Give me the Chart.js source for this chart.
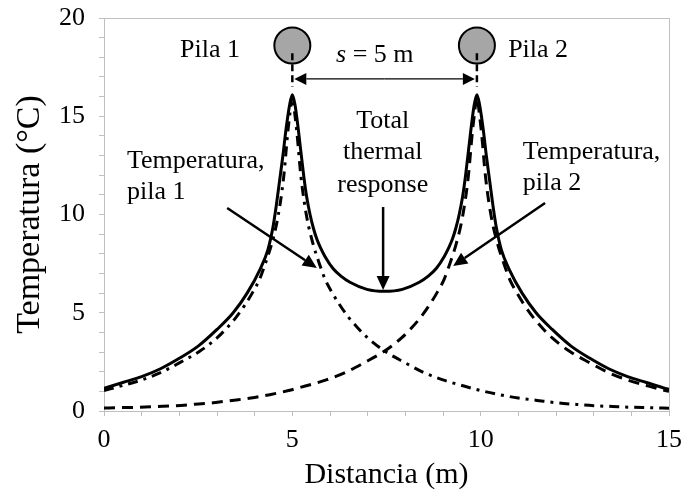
<!DOCTYPE html>
<html>
<head>
<meta charset="utf-8">
<script src="https://cdn.jsdelivr.net/npm/chart.js@4.4.0/dist/chart.umd.min.js"></script>
<style>
  html, body { margin: 0; padding: 0; background: #fff; }
</style>
</head>
<body>
<canvas id="temp-chart" width="685" height="499"></canvas>
<script>
// distancia (m) / temperatura (°C)
const distPila1 = [0, 0.5, 1, 1.5, 2, 2.55, 3, 3.25, 3.5, 3.76, 3.95, 4.13, 4.3, 4.45, 4.62, 4.77, 4.88, 4.94, 5,
  5.06, 5.12, 5.23, 5.38, 5.55, 5.7, 5.87, 6.05, 6.24, 6.5, 6.75, 7, 7.45, 8, 8.5, 9, 9.5, 10,
  10.5, 11, 11.5, 12, 12.5, 13, 13.5, 14, 14.5, 15];
const tempPila1 = [1.04, 1.3, 1.58, 1.95, 2.45, 3.05, 3.72, 4.2, 4.75, 5.45, 6.05, 6.7, 7.6, 8.5, 9.9, 11.9, 14.2, 15.2, 16.0,
  15.2, 14.2, 11.9, 9.9, 8.5, 7.6, 6.7, 6.05, 5.45, 4.75, 4.2, 3.72, 3.05, 2.45, 1.95, 1.58, 1.3, 1.04,
  0.83, 0.66, 0.54, 0.42, 0.34, 0.27, 0.23, 0.19, 0.17, 0.14];

const distPila2 = [0, 0.4, 0.9, 1.4, 1.9, 2.4, 2.9, 3.4, 3.9, 4.4, 4.9, 5.4, 5.9, 6.4, 6.9, 7.45, 7.9, 8.15, 8.4,
  8.66, 8.85, 9.03, 9.2, 9.35, 9.52, 9.67, 9.78, 9.84, 9.9, 9.96, 10.02, 10.13, 10.28, 10.45, 10.6,
  10.77, 10.95, 11.14, 11.4, 11.65, 11.9, 12.35, 12.9, 13.4, 13.9, 14.4, 14.9, 15];
const tempPila2 = [0.15, 0.17, 0.19, 0.23, 0.27, 0.34, 0.42, 0.54, 0.66, 0.83, 1.04, 1.3, 1.58, 1.95, 2.45, 3.05, 3.72, 4.2, 4.75,
  5.45, 6.05, 6.7, 7.6, 8.5, 9.9, 11.9, 14.2, 15.2, 16.0, 15.2, 14.2, 11.9, 9.9, 8.5, 7.6,
  6.7, 6.05, 5.45, 4.75, 4.2, 3.72, 3.05, 2.45, 1.95, 1.58, 1.3, 1.04, 1.0];

const distTotal = [0, 0.5, 1, 1.5, 2, 2.5, 3, 3.43, 3.8, 4.14, 4.35, 4.49, 4.57, 4.66, 4.75, 4.83, 4.93, 5,
  5.07, 5.16, 5.3, 5.38, 5.47, 5.56, 5.65, 5.75, 5.87, 6.08, 6.3, 6.53, 6.98, 7.45,
  7.92, 8.37, 8.6, 8.82, 9.03, 9.15, 9.25, 9.34, 9.43, 9.52, 9.6, 9.74, 9.83, 9.9,
  9.97, 10.07, 10.15, 10.24, 10.33, 10.41, 10.55, 10.76, 11.1, 11.47, 11.9,
  12.4, 12.9, 13.4, 13.9, 14.4, 14.9, 15];
const tempTotal = [1.15, 1.45, 1.75, 2.15, 2.68, 3.3, 4.15, 5.0, 6.0, 7.2, 8.2, 9.4, 10.4, 11.7, 13.0, 14.3, 15.6, 16.1,
  15.6, 14.3, 12.0, 10.9, 10.0, 9.3, 8.75, 8.3, 7.85, 7.25, 6.85, 6.55, 6.19, 6.09,
  6.19, 6.55, 6.85, 7.25, 7.85, 8.3, 8.75, 9.3, 10.0, 10.9, 12.0, 14.3, 15.6, 16.1,
  15.6, 14.3, 13.0, 11.7, 10.4, 9.4, 8.2, 7.2, 6.0, 5.0, 4.15,
  3.3, 2.68, 2.15, 1.75, 1.45, 1.15, 1.1];

const xTicksLabelled = [0, 5, 10, 15];
const yTicksLabelled = [0, 5, 10, 15, 20];

const serif = "'Liberation Serif', 'Times New Roman', serif";
const axisGray = '#bfbfbf';

Chart.defaults.font.family = serif;
Chart.defaults.color = '#000';

function pts(xs, ys) {
  return xs.map((x, i) => ({ x: x, y: ys[i] }));
}

const plotFrame = {
  id: 'plotFrame',
  beforeDatasetsDraw(chart) {
    const { ctx, chartArea: { left, top, width, height } } = chart;
    ctx.save();
    ctx.strokeStyle = axisGray;
    ctx.lineWidth = 1;
    ctx.strokeRect(left + 0.5, top + 0.5, width, height);
    ctx.restore();
  },
};

function arrow(ctx, x1, y1, x2, y2, len, half) {
  const a = Math.atan2(y2 - y1, x2 - x1);
  const bx = x2 - len * Math.cos(a), by = y2 - len * Math.sin(a);
  ctx.beginPath();
  ctx.moveTo(x1, y1);
  ctx.lineTo(bx, by);
  ctx.stroke();
  ctx.beginPath();
  ctx.moveTo(x2, y2);
  ctx.lineTo(bx + half * Math.sin(a), by - half * Math.cos(a));
  ctx.lineTo(bx - half * Math.sin(a), by + half * Math.cos(a));
  ctx.closePath();
  ctx.fill();
}

const notes = {
  id: 'notes',
  afterDatasetsDraw(chart) {
    const { ctx, scales: { x, y } } = chart;
    const X = (v) => x.getPixelForValue(v);
    const Y = (v) => y.getPixelForValue(v);
    ctx.save();
    ctx.fillStyle = '#000';
    ctx.strokeStyle = '#000';

    // piles
    [5, 9.9].forEach((p) => {
      ctx.beginPath();
      ctx.arc(X(p), Y(18.6), 18, 0, Math.PI * 2);
      ctx.fillStyle = '#a6a6a6';
      ctx.fill();
      ctx.lineWidth = 2;
      ctx.strokeStyle = '#000';
      ctx.stroke();
      ctx.fillStyle = '#000';
      ctx.setLineDash([7, 4]);
      ctx.lineWidth = 2.5;
      ctx.beginPath();
      ctx.moveTo(X(p), Y(18.2));
      ctx.lineTo(X(p), Y(16.5));
      ctx.stroke();
      ctx.setLineDash([]);
    });

    // spacing arrow
    ctx.lineWidth = 1.3;
    const ym = Y(16.9), mid = (X(5) + X(9.9)) / 2;
    arrow(ctx, mid, ym, X(5) + 2, ym, 12, 6);
    arrow(ctx, mid, ym, X(9.9) - 2, ym, 12, 6);

    ctx.textBaseline = 'alphabetic';

    // s = 5 m
    ctx.font = 'italic 26px ' + serif;
    const wS = ctx.measureText('s').width;
    ctx.font = '26px ' + serif;
    const rest = ' = 5 m';
    const wR = ctx.measureText(rest).width;
    const sx = X(7.19) - (wS + wR) / 2;
    ctx.font = 'italic 26px ' + serif;
    ctx.textAlign = 'left';
    ctx.fillText('s', sx, Y(17.76));
    ctx.font = '26px ' + serif;
    ctx.fillText(rest, sx + wS, Y(17.76));

    ctx.textAlign = 'right';
    ctx.fillText('Pila 1', X(3.61), Y(18.0));
    ctx.textAlign = 'left';
    ctx.fillText('Pila 2', X(10.73), Y(18.0));

    ctx.textAlign = 'center';
    ctx.fillText('Total', X(7.4), Y(14.4));
    ctx.fillText('thermal', X(7.4), Y(12.82));
    ctx.fillText('response', X(7.4), Y(11.15));

    ctx.textAlign = 'left';
    ctx.fillText('Temperatura,', X(0.61), Y(12.37));
    ctx.fillText('pila 1', X(0.61), Y(10.79));
    ctx.fillText('Temperatura,', X(11.12), Y(12.82));
    ctx.fillText('pila 2', X(11.12), Y(11.25));

    ctx.lineWidth = 2.5;
    arrow(ctx, X(7.41), Y(10.38), X(7.41), Y(6.16), 14, 6.5);
    arrow(ctx, X(3.27), Y(10.33), X(5.65), Y(7.28), 14, 6.5);
    arrow(ctx, X(11.71), Y(10.59), X(9.27), Y(7.38), 14, 6.5);
    ctx.restore();
  },
};

const curve = {
  borderColor: '#000',
  borderWidth: 3,
  pointRadius: 0,
  fill: false,
  cubicInterpolationMode: 'monotone',
};

const tempConfig = {
  type: 'line',
  data: {
    datasets: [
      Object.assign({ label: 'Total', data: pts(distTotal, tempTotal) }, curve),
      Object.assign({ label: 'Pila 1', data: pts(distPila1, tempPila1), borderDash: [10, 6, 3, 6] }, curve),
      Object.assign({ label: 'Pila 2', data: pts(distPila2, tempPila2), borderDash: [11, 7] }, curve),
    ],
  },
  options: {
    responsive: false,
    animation: false,
    layout: { padding: { top: 18, right: 16, left: 0, bottom: 0 } },
    plugins: {
      legend: { display: false },
      tooltip: { enabled: false },
    },
    scales: {
      x: {
        type: 'linear',
        min: 0,
        max: 15,
        afterFit: (s) => {
          s.height = 88;
          s.paddingLeft = 0;
          s.paddingRight = 0;
        },
        ticks: {
          stepSize: 1,
          autoSkip: false,
          maxRotation: 0,
          padding: 9,
          font: { size: 26 },
          callback: (v) => (xTicksLabelled.includes(v) ? String(v) : ''),
        },
        grid: { drawOnChartArea: false, color: axisGray, tickLength: 5 },
        border: { color: axisGray },
        title: { display: true, text: 'Distancia (m)', font: { size: 30 }, padding: { top: 0, bottom: 6 } },
      },
      y: {
        min: 0,
        max: 20,
        afterFit: (s) => {
          s.width = 104;
          s.paddingTop = 0;
          s.paddingBottom = 0;
        },
        ticks: {
          stepSize: 1,
          autoSkip: false,
          padding: 14,
          font: { size: 26 },
          callback: (v) => (yTicksLabelled.includes(v) ? String(v) : ''),
        },
        grid: { drawOnChartArea: false, color: axisGray, tickLength: 5 },
        border: { color: axisGray },
        title: { display: true, text: 'Temperatura (°C)', font: { size: 34 }, padding: { top: 10, bottom: 0 } },
      },
    },
  },
  plugins: [plotFrame, notes],
};

new Chart(document.getElementById('temp-chart').getContext('2d'), tempConfig);
</script>
</body>
</html>
